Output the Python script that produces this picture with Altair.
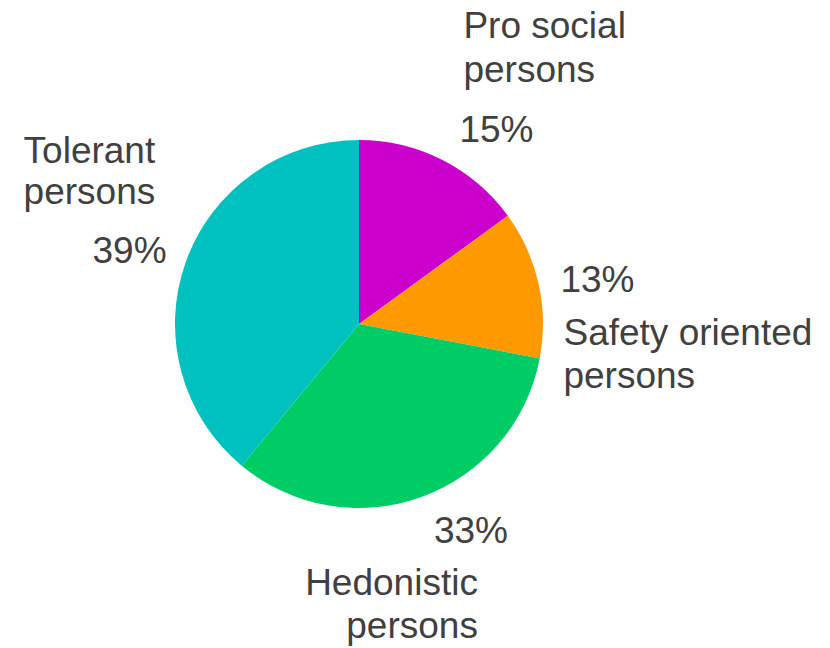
import altair as alt
import pandas as pd
import math

categories = ["Pro social persons", "Safety oriented persons", "Hedonistic persons", "Tolerant persons"]
values = [15, 13, 33, 39]
pct_labels = ["15%", "13%", "33%", "39%"]
name_labels = ["Pro social\npersons", "Safety oriented\npersons", "Hedonistic\npersons", "Tolerant\npersons"]
colors = ["#CC00CC", "#FF9900", "#00CC66", "#00C0C0"]

df = pd.DataFrame({
    "category": categories,
    "value": values,
    "order": list(range(len(categories))),
    "pct": pct_labels,
    "name": name_labels,
})

CX, CY = 351, 316
R_LABEL = 230
FONT = "Liberation Sans"
FS = 37
TXT = "#404040"
TOTAL = sum(values)

theta_scale = alt.Scale(domain=[0, TOTAL], range=[0, 2 * math.pi])

base = alt.Chart(df).transform_window(
    end="sum(value)", sort=[alt.SortField("order")], frame=[None, 0]
).transform_calculate(
    start="datum.end - datum.value",
    mid="datum.end - datum.value / 2",
).encode(
    x=alt.value(CX),
    y=alt.value(CY),
)

pie = base.mark_arc(outerRadius=184, stroke=None).encode(
    theta=alt.Theta("start:Q", scale=theta_scale),
    theta2="end:Q",
    color=alt.Color("category:N", sort=categories,
                    scale=alt.Scale(domain=categories, range=colors), legend=None),
)

# per-label placement tweaks (offsets from slice mid-angle at R_LABEL)
name_style = {
    "Pro social persons": dict(align="left", dx=0, dy=-81, lineHeight=44),
    "Safety oriented persons": dict(align="left", dx=-20, dy=71, lineHeight=43),
    "Hedonistic persons": dict(align="right", dx=41, dy=55, lineHeight=43),
    "Tolerant persons": dict(align="left", dx=-119, dy=-83, lineHeight=41),
}
pct_style = {
    "Pro social persons": dict(align="left", dx=-4, dy=23),
    "Safety oriented persons": dict(align="left", dx=-23, dy=18),
    "Hedonistic persons": dict(align="left", dx=-3, dy=3),
    "Tolerant persons": dict(align="right", dx=24, dy=17),
}

layers = [pie]
for c in categories:
    ns = name_style[c]
    layers.append(
        base.transform_filter(alt.datum.category == c).mark_text(
            radius=R_LABEL, baseline="alphabetic", font=FONT, fontSize=FS,
            color=TXT, lineBreak="\n", **ns
        ).encode(theta=alt.Theta("mid:Q", scale=theta_scale), text="name:N")
    )
    ps = pct_style[c]
    layers.append(
        base.transform_filter(alt.datum.category == c).mark_text(
            radius=R_LABEL, baseline="alphabetic", font=FONT, fontSize=FS,
            color=TXT, **ps
        ).encode(theta=alt.Theta("mid:Q", scale=theta_scale), text="pct:N")
    )

chart = alt.layer(*layers).properties(
    width=814, height=640, padding=0,
    autosize=alt.AutoSizeParams(type="none"),
).configure_view(stroke=None)

chart.save("out.html", embed_options={"renderer": "svg", "actions": False})
